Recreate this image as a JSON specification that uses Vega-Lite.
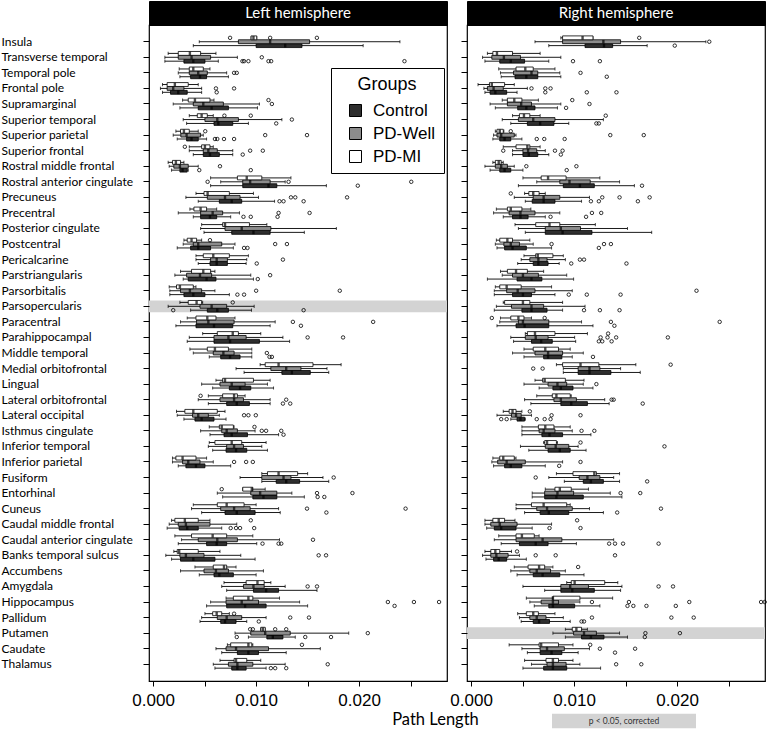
{
"$schema":"https://vega.github.io/schema/vega-lite/v6.json",
"padding":0,
"autosize":{"type":"pad"},
"config":{"view":{"stroke":"black","strokeWidth":1.2},"font":"Lato",
"axisX":{"grid":false,"domain":false,"tickSize":5,"tickColor":"black","labelFont":"Liberation Sans","labelFontSize":17,"labelColor":"black","labelDx":15,"labelPadding":6,"labelOverlap":false,"labelFlush":false,"titleFont":"Lato","titleFontSize":16.5,"titleFontWeight":"normal","titleColor":"black","titleBaseline":"middle","titleAlign":"center"}},
"datasets":{
"sig":[{"h":"L","r":"Parsopercularis","s":"p < 0.05, corrected"},{"h":"R","r":"Putamen","s":"p < 0.05, corrected"}],
"box":[
{"h":"L","r":"Insula","g":"Control","lo":0.0039,"q1":0.01,"md":0.01282,"q3":0.01445,"hi":0.02039,"o":[]},
{"h":"L","r":"Insula","g":"PD-Well","lo":0.00448,"q1":0.00828,"md":0.01136,"q3":0.01519,"hi":0.02396,"o":[]},
{"h":"L","r":"Insula","g":"PD-MI","lo":0.00951,"q1":0.00951,"md":0.00974,"q3":0.01006,"hi":0.01006,"o":[0.00747,0.01136,0.0159]},
{"h":"L","r":"Transverse temporal","g":"Control","lo":0.00114,"q1":0.00299,"md":0.0039,"q3":0.00503,"hi":0.00633,"o":[0.00867,0.00883,0.00925,0.0112,0.01146,0.0244]},
{"h":"L","r":"Transverse temporal","g":"PD-Well","lo":0.00114,"q1":0.00244,"md":0.00373,"q3":0.00558,"hi":0.00818,"o":[0.01055]},
{"h":"L","r":"Transverse temporal","g":"PD-MI","lo":0.00146,"q1":0.00244,"md":0.00357,"q3":0.00461,"hi":0.0061,"o":[]},
{"h":"L","r":"Temporal pole","g":"Control","lo":0.0026,"q1":0.00364,"md":0.00455,"q3":0.00519,"hi":0.00731,"o":[]},
{"h":"L","r":"Temporal pole","g":"PD-Well","lo":0.00244,"q1":0.00351,"md":0.00438,"q3":0.00526,"hi":0.00714,"o":[0.00786,0.00812]},
{"h":"L","r":"Temporal pole","g":"PD-MI","lo":0.00253,"q1":0.00351,"md":0.0039,"q3":0.00487,"hi":0.00552,"o":[]},
{"h":"L","r":"Frontal pole","g":"Control","lo":0.00091,"q1":0.00169,"md":0.00244,"q3":0.00331,"hi":0.00471,"o":[0.00617]},
{"h":"L","r":"Frontal pole","g":"PD-Well","lo":0.00071,"q1":0.00136,"md":0.00195,"q3":0.00299,"hi":0.00471,"o":[0.0061,0.00786]},
{"h":"L","r":"Frontal pole","g":"PD-MI","lo":0.00091,"q1":0.00136,"md":0.00211,"q3":0.00341,"hi":0.00438,"o":[]},
{"h":"L","r":"Supramarginal","g":"Control","lo":0.0026,"q1":0.00438,"md":0.00568,"q3":0.00731,"hi":0.01013,"o":[]},
{"h":"L","r":"Supramarginal","g":"PD-Well","lo":0.00195,"q1":0.0039,"md":0.00487,"q3":0.00682,"hi":0.01032,"o":[0.01153]},
{"h":"L","r":"Supramarginal","g":"PD-MI","lo":0.00286,"q1":0.00341,"md":0.00406,"q3":0.00552,"hi":0.00591,"o":[0.0112]},
{"h":"L","r":"Superior temporal","g":"Control","lo":0.00325,"q1":0.00591,"md":0.00633,"q3":0.00773,"hi":0.00925,"o":[0.01195]},
{"h":"L","r":"Superior temporal","g":"PD-Well","lo":0.00292,"q1":0.00503,"md":0.00623,"q3":0.00828,"hi":0.0125,"o":[0.01347]},
{"h":"L","r":"Superior temporal","g":"PD-MI","lo":0.00351,"q1":0.00429,"md":0.00471,"q3":0.00526,"hi":0.00584,"o":[0.00692,0.00948]},
{"h":"L","r":"Superior parietal","g":"Control","lo":0.00234,"q1":0.00325,"md":0.00373,"q3":0.00438,"hi":0.00519,"o":[0.006,0.00623,0.00688,0.00786]},
{"h":"L","r":"Superior parietal","g":"PD-Well","lo":0.00195,"q1":0.00269,"md":0.00325,"q3":0.00461,"hi":0.00487,"o":[0.01088,0.01494]},
{"h":"L","r":"Superior parietal","g":"PD-MI","lo":0.00221,"q1":0.00266,"md":0.00299,"q3":0.00351,"hi":0.00438,"o":[0.00506]},
{"h":"L","r":"Superior frontal","g":"Control","lo":0.0039,"q1":0.00487,"md":0.00552,"q3":0.00643,"hi":0.00773,"o":[0.0087]},
{"h":"L","r":"Superior frontal","g":"PD-Well","lo":0.00351,"q1":0.00487,"md":0.00536,"q3":0.00623,"hi":0.00773,"o":[0.00942,0.01065]},
{"h":"L","r":"Superior frontal","g":"PD-MI","lo":0.00351,"q1":0.00471,"md":0.00503,"q3":0.00552,"hi":0.00584,"o":[0.00308]},
{"h":"L","r":"Rostral middle frontal","g":"Control","lo":0.00179,"q1":0.0026,"md":0.00286,"q3":0.00331,"hi":0.00341,"o":[0.00448,0.00948]},
{"h":"L","r":"Rostral middle frontal","g":"PD-Well","lo":0.00156,"q1":0.00201,"md":0.0026,"q3":0.00341,"hi":0.00438,"o":[0.00649]},
{"h":"L","r":"Rostral middle frontal","g":"PD-MI","lo":0.00146,"q1":0.00188,"md":0.00221,"q3":0.00266,"hi":0.00299,"o":[]},
{"h":"L","r":"Rostral anterior cingulate","g":"Control","lo":0.00558,"q1":0.0087,"md":0.0112,"q3":0.01201,"hi":0.01682,"o":[0.01987]},
{"h":"L","r":"Rostral anterior cingulate","g":"PD-Well","lo":0.00656,"q1":0.0087,"md":0.00942,"q3":0.01136,"hi":0.01282,"o":[0.00529,0.01315,0.02506]},
{"h":"L","r":"Rostral anterior cingulate","g":"PD-MI","lo":0.00558,"q1":0.00818,"md":0.00909,"q3":0.01055,"hi":0.01338,"o":[]},
{"h":"L","r":"Precuneus","g":"Control","lo":0.00438,"q1":0.00643,"md":0.00763,"q3":0.0086,"hi":0.01179,"o":[0.01227,0.01266,0.01461]},
{"h":"L","r":"Precuneus","g":"PD-Well","lo":0.00318,"q1":0.00526,"md":0.00698,"q3":0.00844,"hi":0.01023,"o":[0.01338,0.0138,0.01883]},
{"h":"L","r":"Precuneus","g":"PD-MI","lo":0.00416,"q1":0.00494,"md":0.00529,"q3":0.0074,"hi":0.00974,"o":[]},
{"h":"L","r":"Precentral","g":"Control","lo":0.0039,"q1":0.00461,"md":0.00552,"q3":0.00617,"hi":0.00753,"o":[0.00877,0.00948,0.01208]},
{"h":"L","r":"Precentral","g":"PD-Well","lo":0.00244,"q1":0.00461,"md":0.00578,"q3":0.00675,"hi":0.00838,"o":[0.01218,0.01519]},
{"h":"L","r":"Precentral","g":"PD-MI","lo":0.00357,"q1":0.00396,"md":0.00461,"q3":0.00519,"hi":0.00617,"o":[]},
{"h":"L","r":"Posterior cingulate","g":"Control","lo":0.00494,"q1":0.00763,"md":0.00974,"q3":0.01136,"hi":0.01468,"o":[]},
{"h":"L","r":"Posterior cingulate","g":"PD-Well","lo":0.00461,"q1":0.00698,"md":0.0086,"q3":0.01143,"hi":0.01779,"o":[]},
{"h":"L","r":"Posterior cingulate","g":"PD-MI","lo":0.00471,"q1":0.00675,"md":0.00698,"q3":0.00935,"hi":0.01104,"o":[]},
{"h":"L","r":"Postcentral","g":"Control","lo":0.00234,"q1":0.00364,"md":0.00438,"q3":0.00558,"hi":0.00779,"o":[0.00883,0.00916]},
{"h":"L","r":"Postcentral","g":"PD-Well","lo":0.00292,"q1":0.0039,"md":0.00438,"q3":0.00666,"hi":0.00795,"o":[0.01185,0.01299]},
{"h":"L","r":"Postcentral","g":"PD-MI","lo":0.00299,"q1":0.00331,"md":0.00373,"q3":0.00422,"hi":0.00471,"o":[0.00552]},
{"h":"L","r":"Pericalcarine","g":"Control","lo":0.00438,"q1":0.00552,"md":0.00617,"q3":0.00721,"hi":0.00903,"o":[0.01006]},
{"h":"L","r":"Pericalcarine","g":"PD-Well","lo":0.00416,"q1":0.00558,"md":0.00617,"q3":0.00721,"hi":0.00909,"o":[0.0126]},
{"h":"L","r":"Pericalcarine","g":"PD-MI","lo":0.00416,"q1":0.00487,"md":0.00584,"q3":0.0074,"hi":0.00925,"o":[]},
{"h":"L","r":"Parstriangularis","g":"Control","lo":0.00292,"q1":0.00341,"md":0.00519,"q3":0.0061,"hi":0.00974,"o":[0.01016]},
{"h":"L","r":"Parstriangularis","g":"PD-Well","lo":0.00211,"q1":0.00325,"md":0.00455,"q3":0.00568,"hi":0.00948,"o":[0.01136]},
{"h":"L","r":"Parstriangularis","g":"PD-MI","lo":0.00266,"q1":0.00373,"md":0.00487,"q3":0.00558,"hi":0.006,"o":[]},
{"h":"L","r":"Parsorbitalis","g":"Control","lo":0.00162,"q1":0.00299,"md":0.0039,"q3":0.00503,"hi":0.0074,"o":[0.00818,0.00883]},
{"h":"L","r":"Parsorbitalis","g":"PD-Well","lo":0.00162,"q1":0.00266,"md":0.00357,"q3":0.00471,"hi":0.006,"o":[0.01,0.01812]},
{"h":"L","r":"Parsorbitalis","g":"PD-MI","lo":0.00156,"q1":0.00227,"md":0.0026,"q3":0.0039,"hi":0.00416,"o":[]},
{"h":"L","r":"Parsopercularis","g":"Control","lo":0.00364,"q1":0.00526,"md":0.00623,"q3":0.00731,"hi":0.00955,"o":[0.00195,0.01461]},
{"h":"L","r":"Parsopercularis","g":"PD-Well","lo":0.00146,"q1":0.00455,"md":0.00568,"q3":0.00714,"hi":0.00981,"o":[]},
{"h":"L","r":"Parsopercularis","g":"PD-MI","lo":0.0026,"q1":0.00341,"md":0.00422,"q3":0.00471,"hi":0.00481,"o":[0.00773]},
{"h":"L","r":"Paracentral","g":"Control","lo":0.00221,"q1":0.00416,"md":0.00591,"q3":0.00773,"hi":0.01136,"o":[0.01435]},
{"h":"L","r":"Paracentral","g":"PD-Well","lo":0.00266,"q1":0.00422,"md":0.00536,"q3":0.00786,"hi":0.01185,"o":[0.01357,0.02136]},
{"h":"L","r":"Paracentral","g":"PD-MI","lo":0.00331,"q1":0.00416,"md":0.00526,"q3":0.0061,"hi":0.00795,"o":[]},
{"h":"L","r":"Parahippocampal","g":"Control","lo":0.00331,"q1":0.00591,"md":0.00747,"q3":0.01032,"hi":0.01325,"o":[]},
{"h":"L","r":"Parahippocampal","g":"PD-Well","lo":0.00351,"q1":0.00591,"md":0.00731,"q3":0.00903,"hi":0.0126,"o":[0.015,0.01844]},
{"h":"L","r":"Parahippocampal","g":"PD-MI","lo":0.00481,"q1":0.00623,"md":0.00773,"q3":0.00828,"hi":0.01045,"o":[]},
{"h":"L","r":"Middle temporal","g":"Control","lo":0.00545,"q1":0.00656,"md":0.00747,"q3":0.00844,"hi":0.00958,"o":[0.0113,0.01153]},
{"h":"L","r":"Middle temporal","g":"PD-Well","lo":0.0039,"q1":0.00584,"md":0.00682,"q3":0.00786,"hi":0.00958,"o":[0.01104]},
{"h":"L","r":"Middle temporal","g":"PD-MI","lo":0.00357,"q1":0.00526,"md":0.006,"q3":0.00731,"hi":0.00958,"o":[]},
{"h":"L","r":"Medial orbitofrontal","g":"Control","lo":0.00883,"q1":0.0125,"md":0.01347,"q3":0.01526,"hi":0.01705,"o":[]},
{"h":"L","r":"Medial orbitofrontal","g":"PD-Well","lo":0.00805,"q1":0.01143,"md":0.01292,"q3":0.01435,"hi":0.01688,"o":[]},
{"h":"L","r":"Medial orbitofrontal","g":"PD-MI","lo":0.01039,"q1":0.01088,"md":0.01218,"q3":0.01552,"hi":0.01825,"o":[]},
{"h":"L","r":"Lingual","g":"Control","lo":0.00578,"q1":0.0074,"md":0.00844,"q3":0.00948,"hi":0.01169,"o":[]},
{"h":"L","r":"Lingual","g":"PD-Well","lo":0.00471,"q1":0.00649,"md":0.00763,"q3":0.00893,"hi":0.0111,"o":[]},
{"h":"L","r":"Lingual","g":"PD-MI","lo":0.0061,"q1":0.00675,"md":0.00698,"q3":0.00974,"hi":0.01136,"o":[]},
{"h":"L","r":"Lateral orbitofrontal","g":"Control","lo":0.00536,"q1":0.00714,"md":0.00812,"q3":0.00935,"hi":0.01136,"o":[0.0126,0.01331]},
{"h":"L","r":"Lateral orbitofrontal","g":"PD-Well","lo":0.00438,"q1":0.00649,"md":0.00786,"q3":0.00877,"hi":0.01136,"o":[0.01292]},
{"h":"L","r":"Lateral orbitofrontal","g":"PD-MI","lo":0.00536,"q1":0.00675,"md":0.00786,"q3":0.00818,"hi":0.00893,"o":[0.00461]},
{"h":"L","r":"Lateral occipital","g":"Control","lo":0.00299,"q1":0.00406,"md":0.00471,"q3":0.00591,"hi":0.00708,"o":[]},
{"h":"L","r":"Lateral occipital","g":"PD-Well","lo":0.00234,"q1":0.00383,"md":0.00438,"q3":0.00536,"hi":0.00643,"o":[0.00883,0.00925,0.00997]},
{"h":"L","r":"Lateral occipital","g":"PD-MI","lo":0.00227,"q1":0.00308,"md":0.0039,"q3":0.00623,"hi":0.00698,"o":[]},
{"h":"L","r":"Isthmus cingulate","g":"Control","lo":0.00552,"q1":0.00688,"md":0.00763,"q3":0.00916,"hi":0.01218,"o":[0.01266]},
{"h":"L","r":"Isthmus cingulate","g":"PD-Well","lo":0.00461,"q1":0.00666,"md":0.00714,"q3":0.00818,"hi":0.0099,"o":[0.01055,0.01097,0.01244]},
{"h":"L","r":"Isthmus cingulate","g":"PD-MI","lo":0.00545,"q1":0.00643,"md":0.00666,"q3":0.00779,"hi":0.00786,"o":[0.00984]},
{"h":"L","r":"Inferior temporal","g":"Control","lo":0.00578,"q1":0.00708,"md":0.00805,"q3":0.00909,"hi":0.0111,"o":[]},
{"h":"L","r":"Inferior temporal","g":"PD-Well","lo":0.00536,"q1":0.00714,"md":0.00786,"q3":0.00877,"hi":0.01055,"o":[]},
{"h":"L","r":"Inferior temporal","g":"PD-MI","lo":0.00545,"q1":0.006,"md":0.00763,"q3":0.0086,"hi":0.01097,"o":[]},
{"h":"L","r":"Inferior parietal","g":"Control","lo":0.00244,"q1":0.00318,"md":0.00416,"q3":0.00503,"hi":0.00753,"o":[]},
{"h":"L","r":"Inferior parietal","g":"PD-Well","lo":0.00188,"q1":0.00286,"md":0.00341,"q3":0.00455,"hi":0.00584,"o":[0.00786,0.00903,0.00968]},
{"h":"L","r":"Inferior parietal","g":"PD-MI","lo":0.00188,"q1":0.00221,"md":0.00286,"q3":0.00416,"hi":0.00519,"o":[]},
{"h":"L","r":"Fusiform","g":"Control","lo":0.01055,"q1":0.01195,"md":0.01292,"q3":0.01422,"hi":0.01705,"o":[]},
{"h":"L","r":"Fusiform","g":"PD-Well","lo":0.00844,"q1":0.01055,"md":0.01266,"q3":0.01338,"hi":0.01649,"o":[0.01753]},
{"h":"L","r":"Fusiform","g":"PD-MI","lo":0.01055,"q1":0.0111,"md":0.01218,"q3":0.01403,"hi":0.015,"o":[]},
{"h":"L","r":"Entorhinal","g":"Control","lo":0.00675,"q1":0.00968,"md":0.01071,"q3":0.01201,"hi":0.01468,"o":[0.01597,0.01662]},
{"h":"L","r":"Entorhinal","g":"PD-Well","lo":0.00623,"q1":0.00948,"md":0.01039,"q3":0.01201,"hi":0.01347,"o":[0.01591,0.01935]},
{"h":"L","r":"Entorhinal","g":"PD-MI","lo":0.0087,"q1":0.0087,"md":0.00958,"q3":0.00968,"hi":0.01088,"o":[0.00666]},
{"h":"L","r":"Cuneus","g":"Control","lo":0.00471,"q1":0.00698,"md":0.00812,"q3":0.0099,"hi":0.01234,"o":[0.01682]},
{"h":"L","r":"Cuneus","g":"PD-Well","lo":0.00373,"q1":0.00656,"md":0.00786,"q3":0.00942,"hi":0.01218,"o":[0.01494,0.02451]},
{"h":"L","r":"Cuneus","g":"PD-MI","lo":0.0039,"q1":0.00623,"md":0.00714,"q3":0.00883,"hi":0.01,"o":[]},
{"h":"L","r":"Caudal middle frontal","g":"Control","lo":0.00136,"q1":0.00253,"md":0.00331,"q3":0.00438,"hi":0.00666,"o":[0.00753,0.00805,0.00844,0.00981]},
{"h":"L","r":"Caudal middle frontal","g":"PD-Well","lo":0.00156,"q1":0.00244,"md":0.00318,"q3":0.00552,"hi":0.00812,"o":[]},
{"h":"L","r":"Caudal middle frontal","g":"PD-MI","lo":0.00179,"q1":0.00211,"md":0.00308,"q3":0.00438,"hi":0.00552,"o":[0.00948]},
{"h":"L","r":"Caudal anterior cingulate","g":"Control","lo":0.00244,"q1":0.00519,"md":0.00617,"q3":0.00714,"hi":0.01006,"o":[0.01062,0.01218,0.01244]},
{"h":"L","r":"Caudal anterior cingulate","g":"PD-Well","lo":0.00276,"q1":0.00438,"md":0.00623,"q3":0.00818,"hi":0.01227,"o":[0.01552]},
{"h":"L","r":"Caudal anterior cingulate","g":"PD-MI","lo":0.00211,"q1":0.00373,"md":0.00578,"q3":0.00714,"hi":0.00968,"o":[]},
{"h":"L","r":"Banks temporal sulcus","g":"Control","lo":0.00179,"q1":0.00266,"md":0.0039,"q3":0.006,"hi":0.0099,"o":[]},
{"h":"L","r":"Banks temporal sulcus","g":"PD-Well","lo":0.00123,"q1":0.0026,"md":0.00318,"q3":0.00494,"hi":0.00851,"o":[0.01607,0.01679]},
{"h":"L","r":"Banks temporal sulcus","g":"PD-MI","lo":0.00201,"q1":0.00234,"md":0.00253,"q3":0.00438,"hi":0.00649,"o":[]},
{"h":"L","r":"Accumbens","g":"Control","lo":0.00448,"q1":0.00591,"md":0.00643,"q3":0.00779,"hi":0.01,"o":[]},
{"h":"L","r":"Accumbens","g":"PD-Well","lo":0.00266,"q1":0.00494,"md":0.0061,"q3":0.00731,"hi":0.01071,"o":[]},
{"h":"L","r":"Accumbens","g":"PD-MI","lo":0.00406,"q1":0.00584,"md":0.00688,"q3":0.00714,"hi":0.00805,"o":[]},
{"h":"L","r":"Amygdala","g":"Control","lo":0.00714,"q1":0.00974,"md":0.01097,"q3":0.01218,"hi":0.01591,"o":[]},
{"h":"L","r":"Amygdala","g":"PD-Well","lo":0.00666,"q1":0.00877,"md":0.00974,"q3":0.01078,"hi":0.01282,"o":[0.015,0.01591]},
{"h":"L","r":"Amygdala","g":"PD-MI","lo":0.00688,"q1":0.00903,"md":0.01013,"q3":0.01078,"hi":0.01143,"o":[]},
{"h":"L","r":"Hippocampus","g":"Control","lo":0.00519,"q1":0.00714,"md":0.00893,"q3":0.01097,"hi":0.015,"o":[0.02344]},
{"h":"L","r":"Hippocampus","g":"PD-Well","lo":0.00558,"q1":0.00708,"md":0.0086,"q3":0.01023,"hi":0.01422,"o":[0.02279,0.02532,0.02776]},
{"h":"L","r":"Hippocampus","g":"PD-MI","lo":0.00708,"q1":0.00779,"md":0.00925,"q3":0.00968,"hi":0.01227,"o":[]},
{"h":"L","r":"Pallidum","g":"Control","lo":0.00455,"q1":0.00656,"md":0.00698,"q3":0.00805,"hi":0.00909,"o":[0.01026]},
{"h":"L","r":"Pallidum","g":"PD-Well","lo":0.00471,"q1":0.00623,"md":0.00714,"q3":0.0086,"hi":0.01097,"o":[0.01331,0.01513]},
{"h":"L","r":"Pallidum","g":"PD-MI","lo":0.00503,"q1":0.00578,"md":0.00617,"q3":0.00666,"hi":0.0074,"o":[0.00786]},
{"h":"L","r":"Putamen","g":"Control","lo":0.00925,"q1":0.01104,"md":0.01162,"q3":0.0126,"hi":0.0138,"o":[0.00812,0.01477,0.01727]},
{"h":"L","r":"Putamen","g":"PD-Well","lo":0.00795,"q1":0.00948,"md":0.01088,"q3":0.01331,"hi":0.01899,"o":[0.02084]},
{"h":"L","r":"Putamen","g":"PD-MI","lo":0.01045,"q1":0.01045,"md":0.01065,"q3":0.01088,"hi":0.01088,"o":[0.00942,0.00968,0.01185,0.01292]},
{"h":"L","r":"Caudate","g":"Control","lo":0.00666,"q1":0.00818,"md":0.00925,"q3":0.01023,"hi":0.01292,"o":[]},
{"h":"L","r":"Caudate","g":"PD-Well","lo":0.0061,"q1":0.00708,"md":0.00805,"q3":0.0112,"hi":0.01623,"o":[]},
{"h":"L","r":"Caudate","g":"PD-MI","lo":0.00721,"q1":0.00753,"md":0.00925,"q3":0.00958,"hi":0.00968,"o":[0.01445]},
{"h":"L","r":"Thalamus","g":"Control","lo":0.006,"q1":0.00763,"md":0.00818,"q3":0.00903,"hi":0.01097,"o":[0.01143,0.01185,0.01292]},
{"h":"L","r":"Thalamus","g":"PD-Well","lo":0.00584,"q1":0.00731,"md":0.00818,"q3":0.00968,"hi":0.01282,"o":[0.01695]},
{"h":"L","r":"Thalamus","g":"PD-MI","lo":0.00649,"q1":0.00786,"md":0.00805,"q3":0.00909,"hi":0.01045,"o":[]},
{"h":"R","r":"Insula","g":"Control","lo":0.00754,"q1":0.01106,"md":0.0129,"q3":0.01374,"hi":0.01709,"o":[0.01977]},
{"h":"R","r":"Insula","g":"PD-Well","lo":0.0062,"q1":0.00888,"md":0.01284,"q3":0.01451,"hi":0.02279,"o":[0.02312]},
{"h":"R","r":"Insula","g":"PD-MI","lo":0.00871,"q1":0.00888,"md":0.01082,"q3":0.01183,"hi":0.01183,"o":[0.01632]},
{"h":"R","r":"Transverse temporal","g":"Control","lo":0.00134,"q1":0.00278,"md":0.00385,"q3":0.00519,"hi":0.00754,"o":[0.00989,0.0125]},
{"h":"R","r":"Transverse temporal","g":"PD-Well","lo":0.00111,"q1":0.00201,"md":0.00318,"q3":0.00479,"hi":0.00871,"o":[]},
{"h":"R","r":"Transverse temporal","g":"PD-MI","lo":0.00158,"q1":0.00211,"md":0.00251,"q3":0.00402,"hi":0.0067,"o":[]},
{"h":"R","r":"Temporal pole","g":"Control","lo":0.00292,"q1":0.00426,"md":0.00536,"q3":0.00647,"hi":0.00871,"o":[0.01317]},
{"h":"R","r":"Temporal pole","g":"PD-Well","lo":0.00285,"q1":0.00412,"md":0.00586,"q3":0.00647,"hi":0.00861,"o":[0.01062]},
{"h":"R","r":"Temporal pole","g":"PD-MI","lo":0.00268,"q1":0.00436,"md":0.00526,"q3":0.00603,"hi":0.00814,"o":[]},
{"h":"R","r":"Frontal pole","g":"Control","lo":0.00134,"q1":0.00184,"md":0.00235,"q3":0.00345,"hi":0.00446,"o":[0.0072,0.01123,0.01411]},
{"h":"R","r":"Frontal pole","g":"PD-Well","lo":0.00124,"q1":0.00158,"md":0.00218,"q3":0.00312,"hi":0.00546,"o":[0.00586,0.0072,0.00771]},
{"h":"R","r":"Frontal pole","g":"PD-MI","lo":0.00067,"q1":0.00178,"md":0.00201,"q3":0.00325,"hi":0.00419,"o":[]},
{"h":"R","r":"Supramarginal","g":"Control","lo":0.00235,"q1":0.00452,"md":0.00536,"q3":0.0062,"hi":0.00838,"o":[0.00922]},
{"h":"R","r":"Supramarginal","g":"PD-Well","lo":0.00184,"q1":0.00352,"md":0.00486,"q3":0.00586,"hi":0.00871,"o":[0.01149]},
{"h":"R","r":"Supramarginal","g":"PD-MI","lo":0.00302,"q1":0.00352,"md":0.00419,"q3":0.00493,"hi":0.00653,"o":[0.00982]},
{"h":"R","r":"Superior temporal","g":"Control","lo":0.00385,"q1":0.00546,"md":0.0067,"q3":0.00804,"hi":0.00948,"o":[0.01216,0.0124]},
{"h":"R","r":"Superior temporal","g":"PD-Well","lo":0.00302,"q1":0.00459,"md":0.00603,"q3":0.00814,"hi":0.01284,"o":[]},
{"h":"R","r":"Superior temporal","g":"PD-MI","lo":0.00402,"q1":0.00469,"md":0.00513,"q3":0.0057,"hi":0.0067,"o":[0.01307]},
{"h":"R","r":"Superior parietal","g":"Control","lo":0.00211,"q1":0.00278,"md":0.00325,"q3":0.00385,"hi":0.00493,"o":[0.00637,0.0071,0.00908]},
{"h":"R","r":"Superior parietal","g":"PD-Well","lo":0.00218,"q1":0.00251,"md":0.00292,"q3":0.00419,"hi":0.00436,"o":[0.01351,0.01676]},
{"h":"R","r":"Superior parietal","g":"PD-MI","lo":0.00235,"q1":0.00251,"md":0.00278,"q3":0.00312,"hi":0.00318,"o":[0.00385]},
{"h":"R","r":"Superior frontal","g":"Control","lo":0.00402,"q1":0.00503,"md":0.0056,"q3":0.00647,"hi":0.00754,"o":[0.00871]},
{"h":"R","r":"Superior frontal","g":"PD-Well","lo":0.00402,"q1":0.00503,"md":0.00553,"q3":0.00637,"hi":0.0072,"o":[0.00312,0.00814,0.00888]},
{"h":"R","r":"Superior frontal","g":"PD-MI","lo":0.00312,"q1":0.00436,"md":0.00546,"q3":0.0057,"hi":0.0067,"o":[]},
{"h":"R","r":"Rostral middle frontal","g":"Control","lo":0.00184,"q1":0.00278,"md":0.00325,"q3":0.00385,"hi":0.00503,"o":[0.00928]},
{"h":"R","r":"Rostral middle frontal","g":"PD-Well","lo":0.00134,"q1":0.00235,"md":0.00292,"q3":0.00352,"hi":0.00419,"o":[0.00536,0.01022]},
{"h":"R","r":"Rostral middle frontal","g":"PD-MI","lo":0.00211,"q1":0.00235,"md":0.00268,"q3":0.00292,"hi":0.00312,"o":[]},
{"h":"R","r":"Rostral anterior cingulate","g":"Control","lo":0.00459,"q1":0.00895,"md":0.01056,"q3":0.01196,"hi":0.01585,"o":[0.01659]},
{"h":"R","r":"Rostral anterior cingulate","g":"PD-Well","lo":0.00637,"q1":0.00861,"md":0.00955,"q3":0.01156,"hi":0.01441,"o":[]},
{"h":"R","r":"Rostral anterior cingulate","g":"PD-MI","lo":0.00503,"q1":0.0068,"md":0.00747,"q3":0.00922,"hi":0.0125,"o":[]},
{"h":"R","r":"Precuneus","g":"Control","lo":0.00526,"q1":0.00593,"md":0.00704,"q3":0.00814,"hi":0.01072,"o":[0.01163,0.0124,0.01619]},
{"h":"R","r":"Precuneus","g":"PD-Well","lo":0.00419,"q1":0.00603,"md":0.00704,"q3":0.00861,"hi":0.01149,"o":[0.01273,0.01441,0.01733]},
{"h":"R","r":"Precuneus","g":"PD-MI","lo":0.00519,"q1":0.0056,"md":0.00603,"q3":0.0066,"hi":0.0072,"o":[0.00385]},
{"h":"R","r":"Precentral","g":"Control","lo":0.00312,"q1":0.00402,"md":0.00479,"q3":0.00553,"hi":0.0072,"o":[0.00771,0.01116]},
{"h":"R","r":"Precentral","g":"PD-Well","lo":0.00218,"q1":0.00369,"md":0.00479,"q3":0.0062,"hi":0.00861,"o":[0.01173,0.01263]},
{"h":"R","r":"Precentral","g":"PD-MI","lo":0.00245,"q1":0.00352,"md":0.00385,"q3":0.00493,"hi":0.0058,"o":[]},
{"h":"R","r":"Posterior cingulate","g":"Control","lo":0.00526,"q1":0.0072,"md":0.00888,"q3":0.01173,"hi":0.01753,"o":[]},
{"h":"R","r":"Posterior cingulate","g":"PD-Well","lo":0.00459,"q1":0.0072,"md":0.00871,"q3":0.01062,"hi":0.01518,"o":[]},
{"h":"R","r":"Posterior cingulate","g":"PD-MI","lo":0.00426,"q1":0.00627,"md":0.00761,"q3":0.00861,"hi":0.01206,"o":[]},
{"h":"R","r":"Postcentral","g":"Control","lo":0.00251,"q1":0.00325,"md":0.00402,"q3":0.00536,"hi":0.00781,"o":[0.0124]},
{"h":"R","r":"Postcentral","g":"PD-Well","lo":0.00235,"q1":0.00318,"md":0.00385,"q3":0.00469,"hi":0.00603,"o":[0.00781,0.0129,0.01357]},
{"h":"R","r":"Postcentral","g":"PD-MI","lo":0.00245,"q1":0.00278,"md":0.00352,"q3":0.00402,"hi":0.0057,"o":[]},
{"h":"R","r":"Pericalcarine","g":"Control","lo":0.00452,"q1":0.00603,"md":0.00653,"q3":0.00747,"hi":0.00855,"o":[0.00972,0.01508]},
{"h":"R","r":"Pericalcarine","g":"PD-Well","lo":0.00486,"q1":0.0057,"md":0.00653,"q3":0.00737,"hi":0.00915,"o":[0.01056,0.01096]},
{"h":"R","r":"Pericalcarine","g":"PD-MI","lo":0.00513,"q1":0.00627,"md":0.00647,"q3":0.00794,"hi":0.00895,"o":[]},
{"h":"R","r":"Parstriangularis","g":"Control","lo":0.00158,"q1":0.00446,"md":0.00586,"q3":0.00687,"hi":0.00995,"o":[]},
{"h":"R","r":"Parstriangularis","g":"PD-Well","lo":0.00302,"q1":0.00402,"md":0.00503,"q3":0.00653,"hi":0.00928,"o":[]},
{"h":"R","r":"Parstriangularis","g":"PD-MI","lo":0.00285,"q1":0.00352,"md":0.00436,"q3":0.00546,"hi":0.00704,"o":[]},
{"h":"R","r":"Parsorbitalis","g":"Control","lo":0.00225,"q1":0.00402,"md":0.00503,"q3":0.00586,"hi":0.00814,"o":[0.00948,0.01123,0.01451]},
{"h":"R","r":"Parsorbitalis","g":"PD-Well","lo":0.00225,"q1":0.00345,"md":0.00452,"q3":0.0062,"hi":0.00982,"o":[0.02188]},
{"h":"R","r":"Parsorbitalis","g":"PD-MI","lo":0.00235,"q1":0.00278,"md":0.00345,"q3":0.00486,"hi":0.00781,"o":[]},
{"h":"R","r":"Parsopercularis","g":"Control","lo":0.00225,"q1":0.00493,"md":0.00586,"q3":0.00737,"hi":0.00888,"o":[0.01096,0.0125,0.01441]},
{"h":"R","r":"Parsopercularis","g":"PD-Well","lo":0.00245,"q1":0.00392,"md":0.00586,"q3":0.00704,"hi":0.01106,"o":[]},
{"h":"R","r":"Parsopercularis","g":"PD-MI","lo":0.00312,"q1":0.00325,"md":0.00503,"q3":0.0057,"hi":0.00888,"o":[]},
{"h":"R","r":"Paracentral","g":"Control","lo":0.00251,"q1":0.00436,"md":0.00519,"q3":0.00754,"hi":0.01183,"o":[0.01391]},
{"h":"R","r":"Paracentral","g":"PD-Well","lo":0.00278,"q1":0.00459,"md":0.00503,"q3":0.00754,"hi":0.01072,"o":[0.01357,0.02413]},
{"h":"R","r":"Paracentral","g":"PD-MI","lo":0.00285,"q1":0.00385,"md":0.00459,"q3":0.00513,"hi":0.00586,"o":[0.00201,0.00714]},
{"h":"R","r":"Parahippocampal","g":"Control","lo":0.00412,"q1":0.00586,"md":0.0068,"q3":0.00788,"hi":0.01015,"o":[0.0124,0.01273,0.01364]},
{"h":"R","r":"Parahippocampal","g":"PD-Well","lo":0.00385,"q1":0.00526,"md":0.00627,"q3":0.00747,"hi":0.01005,"o":[0.01257,0.01324,0.01408,0.0191]},
{"h":"R","r":"Parahippocampal","g":"PD-MI","lo":0.00526,"q1":0.00546,"md":0.0062,"q3":0.00814,"hi":0.01129,"o":[0.0133]},
{"h":"R","r":"Middle temporal","g":"Control","lo":0.00513,"q1":0.00704,"md":0.00747,"q3":0.00881,"hi":0.00982,"o":[0.01183]},
{"h":"R","r":"Middle temporal","g":"PD-Well","lo":0.00402,"q1":0.0062,"md":0.00747,"q3":0.00888,"hi":0.01089,"o":[]},
{"h":"R","r":"Middle temporal","g":"PD-MI","lo":0.00513,"q1":0.00603,"md":0.0072,"q3":0.00848,"hi":0.00962,"o":[]},
{"h":"R","r":"Medial orbitofrontal","g":"Control","lo":0.00895,"q1":0.01039,"md":0.01149,"q3":0.01357,"hi":0.01642,"o":[]},
{"h":"R","r":"Medial orbitofrontal","g":"PD-Well","lo":0.00895,"q1":0.01039,"md":0.01149,"q3":0.0125,"hi":0.01451,"o":[0.00603,0.00694]},
{"h":"R","r":"Medial orbitofrontal","g":"PD-MI","lo":0.00828,"q1":0.00888,"md":0.01062,"q3":0.0124,"hi":0.01599,"o":[0.01937]},
{"h":"R","r":"Lingual","g":"Control","lo":0.0066,"q1":0.00794,"md":0.00871,"q3":0.00989,"hi":0.01183,"o":[]},
{"h":"R","r":"Lingual","g":"PD-Well","lo":0.00513,"q1":0.00747,"md":0.00838,"q3":0.00928,"hi":0.01089,"o":[0.01216]},
{"h":"R","r":"Lingual","g":"PD-MI","lo":0.0062,"q1":0.00694,"md":0.00714,"q3":0.00915,"hi":0.01096,"o":[]},
{"h":"R","r":"Lateral orbitofrontal","g":"Control","lo":0.0058,"q1":0.00871,"md":0.00972,"q3":0.01129,"hi":0.0134,"o":[0.01666]},
{"h":"R","r":"Lateral orbitofrontal","g":"PD-Well","lo":0.00519,"q1":0.00804,"md":0.00871,"q3":0.01022,"hi":0.01297,"o":[0.01364,0.01384]},
{"h":"R","r":"Lateral orbitofrontal","g":"PD-MI","lo":0.00637,"q1":0.00788,"md":0.00828,"q3":0.00962,"hi":0.00972,"o":[]},
{"h":"R","r":"Lateral occipital","g":"Control","lo":0.00385,"q1":0.00446,"md":0.00479,"q3":0.00519,"hi":0.00526,"o":[0.00292,0.00345,0.00637,0.00714,0.00771]},
{"h":"R","r":"Lateral occipital","g":"PD-Well","lo":0.00251,"q1":0.00392,"md":0.00436,"q3":0.00486,"hi":0.00586,"o":[0.00781,0.01062]},
{"h":"R","r":"Lateral occipital","g":"PD-MI","lo":0.00312,"q1":0.00369,"md":0.00402,"q3":0.00436,"hi":0.00493,"o":[0.0057]},
{"h":"R","r":"Isthmus cingulate","g":"Control","lo":0.00493,"q1":0.00687,"md":0.00761,"q3":0.00888,"hi":0.01163,"o":[]},
{"h":"R","r":"Isthmus cingulate","g":"PD-Well","lo":0.00493,"q1":0.0066,"md":0.00704,"q3":0.00814,"hi":0.00982,"o":[0.01072,0.01196]},
{"h":"R","r":"Isthmus cingulate","g":"PD-MI","lo":0.00493,"q1":0.00653,"md":0.0072,"q3":0.00804,"hi":0.00962,"o":[]},
{"h":"R","r":"Inferior temporal","g":"Control","lo":0.0056,"q1":0.00747,"md":0.00861,"q3":0.00962,"hi":0.01116,"o":[]},
{"h":"R","r":"Inferior temporal","g":"PD-Well","lo":0.00479,"q1":0.0072,"md":0.00821,"q3":0.00948,"hi":0.01039,"o":[0.01877]},
{"h":"R","r":"Inferior temporal","g":"PD-MI","lo":0.00704,"q1":0.00714,"md":0.00737,"q3":0.00828,"hi":0.00838,"o":[0.01062]},
{"h":"R","r":"Inferior parietal","g":"Control","lo":0.00218,"q1":0.00325,"md":0.00385,"q3":0.00493,"hi":0.0072,"o":[0.00855]},
{"h":"R","r":"Inferior parietal","g":"PD-Well","lo":0.00201,"q1":0.00258,"md":0.00345,"q3":0.00526,"hi":0.00888,"o":[0.01062]},
{"h":"R","r":"Inferior parietal","g":"PD-MI","lo":0.00211,"q1":0.00278,"md":0.00312,"q3":0.00419,"hi":0.00436,"o":[]},
{"h":"R","r":"Fusiform","g":"Control","lo":0.00905,"q1":0.01089,"md":0.01163,"q3":0.01284,"hi":0.01441,"o":[0.01709]},
{"h":"R","r":"Fusiform","g":"PD-Well","lo":0.00754,"q1":0.01049,"md":0.01129,"q3":0.0125,"hi":0.01384,"o":[0.00627]},
{"h":"R","r":"Fusiform","g":"PD-MI","lo":0.00828,"q1":0.00989,"md":0.01196,"q3":0.01216,"hi":0.01441,"o":[]},
{"h":"R","r":"Entorhinal","g":"Control","lo":0.00593,"q1":0.00714,"md":0.00828,"q3":0.01089,"hi":0.01464,"o":[]},
{"h":"R","r":"Entorhinal","g":"PD-Well","lo":0.00593,"q1":0.00714,"md":0.00838,"q3":0.00995,"hi":0.01351,"o":[0.01451,0.01642]},
{"h":"R","r":"Entorhinal","g":"PD-MI","lo":0.0072,"q1":0.00814,"md":0.00861,"q3":0.00972,"hi":0.01139,"o":[]},
{"h":"R","r":"Cuneus","g":"Control","lo":0.00519,"q1":0.0067,"md":0.00754,"q3":0.00948,"hi":0.01284,"o":[0.01418]},
{"h":"R","r":"Cuneus","g":"PD-Well","lo":0.00436,"q1":0.00637,"md":0.00737,"q3":0.00982,"hi":0.01149,"o":[0.01843]},
{"h":"R","r":"Cuneus","g":"PD-MI","lo":0.00436,"q1":0.00586,"md":0.00704,"q3":0.00928,"hi":0.00962,"o":[]},
{"h":"R","r":"Caudal middle frontal","g":"Control","lo":0.00151,"q1":0.00225,"md":0.00292,"q3":0.00436,"hi":0.00593,"o":[0.00761,0.01062]},
{"h":"R","r":"Caudal middle frontal","g":"PD-Well","lo":0.00134,"q1":0.00191,"md":0.00278,"q3":0.00446,"hi":0.00781,"o":[]},
{"h":"R","r":"Caudal middle frontal","g":"PD-MI","lo":0.00134,"q1":0.00211,"md":0.00268,"q3":0.00325,"hi":0.00426,"o":[0.01029]},
{"h":"R","r":"Caudal anterior cingulate","g":"Control","lo":0.00292,"q1":0.00469,"md":0.00627,"q3":0.00747,"hi":0.01022,"o":[0.0134,0.01397,0.01475,0.0182]},
{"h":"R","r":"Caudal anterior cingulate","g":"PD-Well","lo":0.00225,"q1":0.00436,"md":0.00694,"q3":0.00881,"hi":0.01384,"o":[]},
{"h":"R","r":"Caudal anterior cingulate","g":"PD-MI","lo":0.00268,"q1":0.00436,"md":0.00493,"q3":0.00613,"hi":0.0066,"o":[]},
{"h":"R","r":"Banks temporal sulcus","g":"Control","lo":0.00144,"q1":0.00218,"md":0.00268,"q3":0.00345,"hi":0.00536,"o":[]},
{"h":"R","r":"Banks temporal sulcus","g":"PD-Well","lo":0.00111,"q1":0.00191,"md":0.00245,"q3":0.00359,"hi":0.00469,"o":[0.00627,0.00821,0.01397]},
{"h":"R","r":"Banks temporal sulcus","g":"PD-MI","lo":0.00134,"q1":0.00191,"md":0.00235,"q3":0.00278,"hi":0.00392,"o":[0.00446]},
{"h":"R","r":"Accumbens","g":"Control","lo":0.00446,"q1":0.00603,"md":0.00694,"q3":0.00861,"hi":0.01096,"o":[]},
{"h":"R","r":"Accumbens","g":"PD-Well","lo":0.00385,"q1":0.0057,"md":0.00637,"q3":0.00771,"hi":0.00915,"o":[]},
{"h":"R","r":"Accumbens","g":"PD-MI","lo":0.00419,"q1":0.00553,"md":0.0066,"q3":0.00714,"hi":0.00794,"o":[0.01039]},
{"h":"R","r":"Amygdala","g":"Control","lo":0.00714,"q1":0.00871,"md":0.00982,"q3":0.01196,"hi":0.01451,"o":[]},
{"h":"R","r":"Amygdala","g":"PD-Well","lo":0.00503,"q1":0.00871,"md":0.00962,"q3":0.01139,"hi":0.01464,"o":[0.0182,0.0196]},
{"h":"R","r":"Amygdala","g":"PD-MI","lo":0.00928,"q1":0.00972,"md":0.01005,"q3":0.01297,"hi":0.01424,"o":[]},
{"h":"R","r":"Hippocampus","g":"Control","lo":0.00613,"q1":0.00754,"md":0.00794,"q3":0.01005,"hi":0.0125,"o":[0.01518,0.01575,0.01702,0.01987]},
{"h":"R","r":"Hippocampus","g":"PD-Well","lo":0.0057,"q1":0.0068,"md":0.00794,"q3":0.00848,"hi":0.01056,"o":[0.01173,0.01532,0.02118,0.02815,0.0285]},
{"h":"R","r":"Hippocampus","g":"PD-MI","lo":0.00536,"q1":0.00794,"md":0.00794,"q3":0.01056,"hi":0.01374,"o":[]},
{"h":"R","r":"Pallidum","g":"Control","lo":0.00486,"q1":0.00603,"md":0.0066,"q3":0.00761,"hi":0.00962,"o":[0.01072,0.01096]},
{"h":"R","r":"Pallidum","g":"PD-Well","lo":0.00469,"q1":0.0057,"md":0.00637,"q3":0.00727,"hi":0.00895,"o":[0.01173,0.01944,0.02161]},
{"h":"R","r":"Pallidum","g":"PD-MI","lo":0.00452,"q1":0.00536,"md":0.00603,"q3":0.00653,"hi":0.00814,"o":[]},
{"h":"R","r":"Putamen","g":"Control","lo":0.00915,"q1":0.01072,"md":0.01163,"q3":0.0129,"hi":0.01518,"o":[0.01686]},
{"h":"R","r":"Putamen","g":"PD-Well","lo":0.00794,"q1":0.00995,"md":0.01096,"q3":0.01216,"hi":0.01441,"o":[0.01692,0.02027]},
{"h":"R","r":"Putamen","g":"PD-MI","lo":0.00915,"q1":0.00982,"md":0.01022,"q3":0.01072,"hi":0.01129,"o":[]},
{"h":"R","r":"Caudate","g":"Control","lo":0.00546,"q1":0.0067,"md":0.00781,"q3":0.00881,"hi":0.01039,"o":[0.01397]},
{"h":"R","r":"Caudate","g":"PD-Well","lo":0.00493,"q1":0.0067,"md":0.00737,"q3":0.00905,"hi":0.01149,"o":[0.0125,0.01592]},
{"h":"R","r":"Caudate","g":"PD-MI","lo":0.00369,"q1":0.0066,"md":0.0068,"q3":0.00848,"hi":0.00989,"o":[0.01156]},
{"h":"R","r":"Thalamus","g":"Control","lo":0.00503,"q1":0.00704,"md":0.00794,"q3":0.00928,"hi":0.01257,"o":[]},
{"h":"R","r":"Thalamus","g":"PD-Well","lo":0.00586,"q1":0.00737,"md":0.00794,"q3":0.00922,"hi":0.01056,"o":[0.01408,0.01652]},
{"h":"R","r":"Thalamus","g":"PD-MI","lo":0.00519,"q1":0.00727,"md":0.00794,"q3":0.00848,"hi":0.00989,"o":[]}
]},
"columns":2,
"bounds":"flush",
"spacing":{"row":0,"column":20},
"resolve":{"scale":{"color":"shared","fill":"shared"},"legend":{"color":"shared","fill":"shared"}},
"concat":[
{"width":298,"height":24,"view":{"fill":"black","stroke":"black"},"data":{"values":[{"t":"Left hemisphere"}]},"mark":{"type":"text","color":"white","font":"Lato","fontSize":15},"encoding":{"text":{"field":"t"}}},
{"width":298,"height":24,"view":{"fill":"black","stroke":"black"},"data":{"values":[{"t":"Right hemisphere"}]},"mark":{"type":"text","color":"white","font":"Lato","fontSize":15},"encoding":{"text":{"field":"t"}}},
{"width":298,"height":656,
"encoding":{"y":{"field":"r","type":"nominal","scale":{"domain":["Insula","Transverse temporal","Temporal pole","Frontal pole","Supramarginal","Superior temporal","Superior parietal","Superior frontal","Rostral middle frontal","Rostral anterior cingulate","Precuneus","Precentral","Posterior cingulate","Postcentral","Pericalcarine","Parstriangularis","Parsorbitalis","Parsopercularis","Paracentral","Parahippocampal","Middle temporal","Medial orbitofrontal","Lingual","Lateral orbitofrontal","Lateral occipital","Isthmus cingulate","Inferior temporal","Inferior parietal","Fusiform","Entorhinal","Cuneus","Caudal middle frontal","Caudal anterior cingulate","Banks temporal sulcus","Accumbens","Amygdala","Hippocampus","Pallidum","Putamen","Caudate","Thalamus"],"paddingInner":0.25,"paddingOuter":0.7},
"axis":{"title":null,"domain":false,"ticks":true,"tickSize":6,"tickColor":"black","labelAlign":"left","labelPadding":142,"labelFont":"Lato","labelFontSize":12,"labelColor":"black","labelLimit":220}}},
"layer":[
{"data":{"name":"sig"},"transform":[{"filter":"datum.h == 'L'"}],"mark":{"type":"rect"},"encoding":{"x":{"value":0},"x2":{"value":"width"},"fill":{"field":"s","type":"nominal","scale":{"domain":["p < 0.05, corrected"],"range":["#d3d3d3"]},"legend":{"title":null,"orient":"none","legendX":403,"legendY":648,"symbolType":"M-1,-0.1L1,-0.1L1,0.1L-1,0.1Z","symbolSize":20736,"symbolStrokeWidth":0,"labelAlign":"center","labelOffset":-72,"labelFont":"Lato","labelFontSize":8.5,"labelColor":"#333333","padding":0}}}},
{"data":{"name":"box"},"transform":[{"filter":"datum.h == 'L'"}],"mark":{"type":"rule","color":"black","strokeWidth":0.9},"encoding":{"x":{"field":"lo","type":"quantitative","scale":{"domain":[-0.0004,0.02853],"nice":false,"zero":false},"axis":{"title":"Path Length","titleX":286,"titleY":38,"values":[0,0.005,0.01,0.015,0.02,0.025],"labelExpr":"(datum.value < 0.0001 || abs(datum.value - 0.01) < 0.0001 || abs(datum.value - 0.02) < 0.0001) ? format(datum.value, '.3f') : ''"}},"x2":{"field":"hi"},"yOffset":{"field":"g","type":"nominal","scale":{"domain":["PD-MI","PD-Well","Control"],"paddingInner":0,"paddingOuter":0}}}},
{"data":{"name":"box"},"transform":[{"filter":"datum.h == 'L'"}],"mark":{"type":"tick","color":"black","thickness":1,"size":3.2,"orient":"vertical"},"encoding":{"x":{"field":"lo","type":"quantitative","scale":{"domain":[-0.0004,0.02853],"nice":false,"zero":false},"axis":{"title":"Path Length","titleX":286,"titleY":38,"values":[0,0.005,0.01,0.015,0.02,0.025],"labelExpr":"(datum.value < 0.0001 || abs(datum.value - 0.01) < 0.0001 || abs(datum.value - 0.02) < 0.0001) ? format(datum.value, '.3f') : ''"}},"yOffset":{"field":"g","type":"nominal","scale":{"domain":["PD-MI","PD-Well","Control"],"paddingInner":0,"paddingOuter":0}}}},
{"data":{"name":"box"},"transform":[{"filter":"datum.h == 'L'"}],"mark":{"type":"tick","color":"black","thickness":1,"size":3.2,"orient":"vertical"},"encoding":{"x":{"field":"hi","type":"quantitative","scale":{"domain":[-0.0004,0.02853],"nice":false,"zero":false},"axis":{"title":"Path Length","titleX":286,"titleY":38,"values":[0,0.005,0.01,0.015,0.02,0.025],"labelExpr":"(datum.value < 0.0001 || abs(datum.value - 0.01) < 0.0001 || abs(datum.value - 0.02) < 0.0001) ? format(datum.value, '.3f') : ''"}},"yOffset":{"field":"g","type":"nominal","scale":{"domain":["PD-MI","PD-Well","Control"],"paddingInner":0,"paddingOuter":0}}}},
{"data":{"name":"box"},"transform":[{"filter":"datum.h == 'L'"}],"mark":{"type":"bar","stroke":"black","strokeWidth":0.8},"encoding":{"x":{"field":"q1","type":"quantitative","scale":{"domain":[-0.0004,0.02853],"nice":false,"zero":false},"axis":{"title":"Path Length","titleX":286,"titleY":38,"values":[0,0.005,0.01,0.015,0.02,0.025],"labelExpr":"(datum.value < 0.0001 || abs(datum.value - 0.01) < 0.0001 || abs(datum.value - 0.02) < 0.0001) ? format(datum.value, '.3f') : ''"}},"x2":{"field":"q3"},"yOffset":{"field":"g","type":"nominal","scale":{"domain":["PD-MI","PD-Well","Control"],"paddingInner":0,"paddingOuter":0}},"color":{"field":"g","type":"nominal","scale":{"domain":["Control","PD-Well","PD-MI"],"range":["#2e2e2e","#8c8c8c","#ffffff"]},"legend":{"title":"Groups","orient":"none","legendX":182,"legendY":67,"direction":"vertical","symbolType":"square","symbolSize":144,"symbolStrokeColor":"black","symbolStrokeWidth":1,"symbolOpacity":1,"labelFont":"Liberation Sans","labelFontSize":17,"labelColor":"black","titleFont":"Liberation Sans","titleFontSize":18,"titleFontWeight":"normal","titleColor":"black","titleAnchor":"middle","titlePadding":8,"rowPadding":5,"labelOffset":9,"symbolOffset":8,"padding":8,"strokeColor":"black","fillColor":"white"}}}},
{"data":{"name":"box"},"transform":[{"filter":"datum.h == 'L'"}],"mark":{"type":"tick","color":"black","thickness":2.4,"size":3.6,"orient":"vertical"},"encoding":{"x":{"field":"md","type":"quantitative","scale":{"domain":[-0.0004,0.02853],"nice":false,"zero":false},"axis":{"title":"Path Length","titleX":286,"titleY":38,"values":[0,0.005,0.01,0.015,0.02,0.025],"labelExpr":"(datum.value < 0.0001 || abs(datum.value - 0.01) < 0.0001 || abs(datum.value - 0.02) < 0.0001) ? format(datum.value, '.3f') : ''"}},"yOffset":{"field":"g","type":"nominal","scale":{"domain":["PD-MI","PD-Well","Control"],"paddingInner":0,"paddingOuter":0}}}},
{"data":{"name":"box"},"transform":[{"filter":"datum.h == 'L'"},{"flatten":["o"]}],"mark":{"type":"point","shape":"circle","filled":false,"color":"black","size":12,"strokeWidth":0.8,"opacity":1},"encoding":{"x":{"field":"o","type":"quantitative","scale":{"domain":[-0.0004,0.02853],"nice":false,"zero":false},"axis":{"title":"Path Length","titleX":286,"titleY":38,"values":[0,0.005,0.01,0.015,0.02,0.025],"labelExpr":"(datum.value < 0.0001 || abs(datum.value - 0.01) < 0.0001 || abs(datum.value - 0.02) < 0.0001) ? format(datum.value, '.3f') : ''"}},"yOffset":{"field":"g","type":"nominal","scale":{"domain":["PD-MI","PD-Well","Control"],"paddingInner":0,"paddingOuter":0}}}}
]},
{"width":298,"height":656,
"encoding":{"y":{"field":"r","type":"nominal","scale":{"domain":["Insula","Transverse temporal","Temporal pole","Frontal pole","Supramarginal","Superior temporal","Superior parietal","Superior frontal","Rostral middle frontal","Rostral anterior cingulate","Precuneus","Precentral","Posterior cingulate","Postcentral","Pericalcarine","Parstriangularis","Parsorbitalis","Parsopercularis","Paracentral","Parahippocampal","Middle temporal","Medial orbitofrontal","Lingual","Lateral orbitofrontal","Lateral occipital","Isthmus cingulate","Inferior temporal","Inferior parietal","Fusiform","Entorhinal","Cuneus","Caudal middle frontal","Caudal anterior cingulate","Banks temporal sulcus","Accumbens","Amygdala","Hippocampus","Pallidum","Putamen","Caudate","Thalamus"],"paddingInner":0.25,"paddingOuter":0.7},
"axis":{"title":null,"domain":false,"ticks":true,"tickSize":6,"tickColor":"black","labels":false}}},
"layer":[
{"data":{"name":"sig"},"transform":[{"filter":"datum.h == 'R'"}],"mark":{"type":"rect"},"encoding":{"x":{"value":0},"x2":{"value":"width"},"fill":{"field":"s","type":"nominal","scale":{"domain":["p < 0.05, corrected"],"range":["#d3d3d3"]},"legend":null}}},
{"data":{"name":"box"},"transform":[{"filter":"datum.h == 'R'"}],"mark":{"type":"rule","color":"black","strokeWidth":0.9},"encoding":{"x":{"field":"lo","type":"quantitative","scale":{"domain":[-0.0004,0.02853],"nice":false,"zero":false},"axis":{"title":null,"values":[0,0.005,0.01,0.015,0.02,0.025],"labelExpr":"(datum.value < 0.0001 || abs(datum.value - 0.01) < 0.0001 || abs(datum.value - 0.02) < 0.0001) ? format(datum.value, '.3f') : ''"}},"x2":{"field":"hi"},"yOffset":{"field":"g","type":"nominal","scale":{"domain":["PD-MI","PD-Well","Control"],"paddingInner":0,"paddingOuter":0}}}},
{"data":{"name":"box"},"transform":[{"filter":"datum.h == 'R'"}],"mark":{"type":"tick","color":"black","thickness":1,"size":3.2,"orient":"vertical"},"encoding":{"x":{"field":"lo","type":"quantitative","scale":{"domain":[-0.0004,0.02853],"nice":false,"zero":false},"axis":{"title":null,"values":[0,0.005,0.01,0.015,0.02,0.025],"labelExpr":"(datum.value < 0.0001 || abs(datum.value - 0.01) < 0.0001 || abs(datum.value - 0.02) < 0.0001) ? format(datum.value, '.3f') : ''"}},"yOffset":{"field":"g","type":"nominal","scale":{"domain":["PD-MI","PD-Well","Control"],"paddingInner":0,"paddingOuter":0}}}},
{"data":{"name":"box"},"transform":[{"filter":"datum.h == 'R'"}],"mark":{"type":"tick","color":"black","thickness":1,"size":3.2,"orient":"vertical"},"encoding":{"x":{"field":"hi","type":"quantitative","scale":{"domain":[-0.0004,0.02853],"nice":false,"zero":false},"axis":{"title":null,"values":[0,0.005,0.01,0.015,0.02,0.025],"labelExpr":"(datum.value < 0.0001 || abs(datum.value - 0.01) < 0.0001 || abs(datum.value - 0.02) < 0.0001) ? format(datum.value, '.3f') : ''"}},"yOffset":{"field":"g","type":"nominal","scale":{"domain":["PD-MI","PD-Well","Control"],"paddingInner":0,"paddingOuter":0}}}},
{"data":{"name":"box"},"transform":[{"filter":"datum.h == 'R'"}],"mark":{"type":"bar","stroke":"black","strokeWidth":0.8},"encoding":{"x":{"field":"q1","type":"quantitative","scale":{"domain":[-0.0004,0.02853],"nice":false,"zero":false},"axis":{"title":null,"values":[0,0.005,0.01,0.015,0.02,0.025],"labelExpr":"(datum.value < 0.0001 || abs(datum.value - 0.01) < 0.0001 || abs(datum.value - 0.02) < 0.0001) ? format(datum.value, '.3f') : ''"}},"x2":{"field":"q3"},"yOffset":{"field":"g","type":"nominal","scale":{"domain":["PD-MI","PD-Well","Control"],"paddingInner":0,"paddingOuter":0}},"color":{"field":"g","type":"nominal","scale":{"domain":["Control","PD-Well","PD-MI"],"range":["#2e2e2e","#8c8c8c","#ffffff"]},"legend":null}}},
{"data":{"name":"box"},"transform":[{"filter":"datum.h == 'R'"}],"mark":{"type":"tick","color":"black","thickness":2.4,"size":3.6,"orient":"vertical"},"encoding":{"x":{"field":"md","type":"quantitative","scale":{"domain":[-0.0004,0.02853],"nice":false,"zero":false},"axis":{"title":null,"values":[0,0.005,0.01,0.015,0.02,0.025],"labelExpr":"(datum.value < 0.0001 || abs(datum.value - 0.01) < 0.0001 || abs(datum.value - 0.02) < 0.0001) ? format(datum.value, '.3f') : ''"}},"yOffset":{"field":"g","type":"nominal","scale":{"domain":["PD-MI","PD-Well","Control"],"paddingInner":0,"paddingOuter":0}}}},
{"data":{"name":"box"},"transform":[{"filter":"datum.h == 'R'"},{"flatten":["o"]}],"mark":{"type":"point","shape":"circle","filled":false,"color":"black","size":12,"strokeWidth":0.8,"opacity":1},"encoding":{"x":{"field":"o","type":"quantitative","scale":{"domain":[-0.0004,0.02853],"nice":false,"zero":false},"axis":{"title":null,"values":[0,0.005,0.01,0.015,0.02,0.025],"labelExpr":"(datum.value < 0.0001 || abs(datum.value - 0.01) < 0.0001 || abs(datum.value - 0.02) < 0.0001) ? format(datum.value, '.3f') : ''"}},"yOffset":{"field":"g","type":"nominal","scale":{"domain":["PD-MI","PD-Well","Control"],"paddingInner":0,"paddingOuter":0}}}}
]}
]
}
